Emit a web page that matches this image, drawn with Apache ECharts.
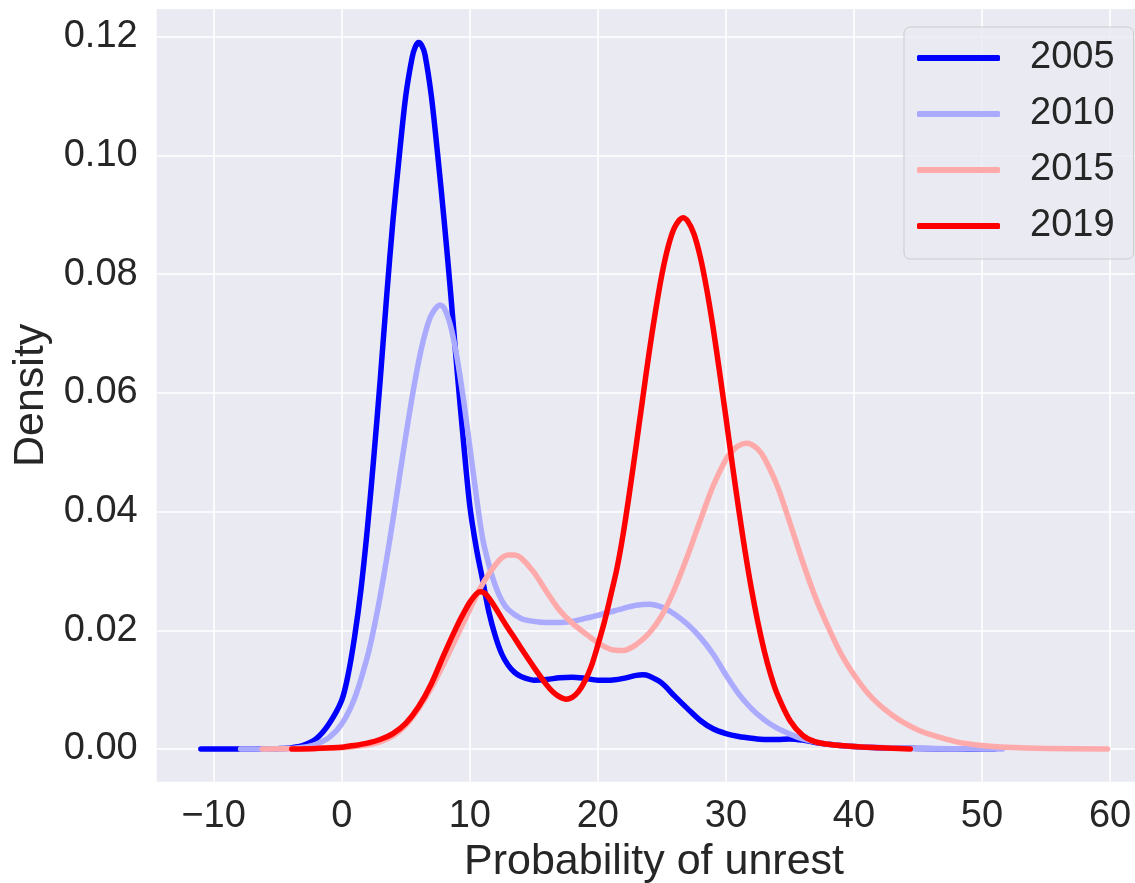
<!DOCTYPE html>
<html>
<head>
<meta charset="utf-8">
<script src="https://cdn.jsdelivr.net/npm/echarts@6/dist/echarts.min.js"></script>
<style>
  html, body { margin: 0; padding: 0; background: #ffffff; }
  #chart { width: 1135px; height: 883px; }
</style>
</head>
<body>
<div id="chart"></div>
<script>
// Kernel density estimates of the probability of unrest, one curve per year
const years = ['2005', '2010', '2015', '2019'];
const colors = ['#0000ff', '#aaaaff', '#ffaaaa', '#ff0000'];

const xs2005 = [-11, -8, -6, -5, -4, -3, -2, -1, 0, 0.5, 1, 1.5, 2, 2.5, 3, 3.5, 4, 4.5, 5, 5.5, 5.75, 6, 6.25, 6.5, 7, 7.5, 8, 8.5, 9, 9.5, 10, 10.5, 11, 11.5, 12, 12.5, 13, 13.5, 14, 15, 16, 17, 18, 19, 20, 21, 22, 23, 23.5, 24, 25, 26, 27, 28, 29, 30, 31, 32, 33, 34, 35, 36, 37, 38, 40, 42, 45, 48, 51];
const ys2005 = [0, 0, 0.00002, 0.00006, 0.00017, 0.0006, 0.0017, 0.0042, 0.0082, 0.0125, 0.0188, 0.0268, 0.037, 0.049, 0.062, 0.076, 0.089, 0.100, 0.110, 0.1165, 0.1183, 0.119, 0.1185, 0.117, 0.110, 0.100, 0.089, 0.077, 0.064, 0.052, 0.041, 0.034, 0.0285, 0.023, 0.019, 0.016, 0.0141, 0.0129, 0.0122, 0.0116, 0.0117, 0.0120, 0.0121, 0.0119, 0.0116, 0.0116, 0.0119, 0.0124, 0.0125, 0.0123, 0.0111, 0.0089, 0.0068, 0.0048, 0.0034, 0.0026, 0.0021, 0.0018, 0.0016, 0.0016, 0.0017, 0.0015, 0.0011, 0.0008, 0.0004, 0.0002, 0.0001, 0.00003, 0];

const xs2010 = [-7.9, -6, -5, -4, -3, -2, -1, 0, 1, 2, 2.5, 3, 3.5, 4, 4.5, 5, 5.5, 6, 6.5, 7, 7.68, 8, 8.5, 9, 9.5, 10, 10.5, 11, 11.5, 12, 12.5, 13, 14, 15, 16, 17, 18, 19, 20, 21, 22, 23, 24, 25, 26, 27, 28, 29, 30, 31, 32, 33, 34, 35, 36, 37, 38, 40, 43, 46, 49, 51.6];
const ys2010 = [0, 0.00001, 0.00003, 0.0001, 0.0003, 0.0008, 0.0019, 0.0042, 0.0085, 0.0155, 0.0202, 0.0257, 0.0319, 0.0386, 0.0457, 0.0527, 0.0593, 0.0652, 0.0699, 0.0731, 0.0748, 0.0743, 0.0713, 0.066, 0.059, 0.051, 0.0428, 0.0355, 0.031, 0.0275, 0.025, 0.0235, 0.022, 0.0215, 0.0213, 0.0213, 0.0215, 0.022, 0.0225, 0.0231, 0.0237, 0.0242, 0.0244, 0.0239, 0.0227, 0.021, 0.0188, 0.016, 0.0125, 0.0093, 0.0068, 0.0049, 0.0035, 0.0025, 0.0017, 0.0012, 0.0008, 0.0004, 0.0002, 0.0001, 0.00003, 0];

const xs2015 = [-6.2, -3, 0, 1, 2, 3, 4, 5, 6, 7, 8, 9, 10, 11, 12, 12.5, 13, 13.5, 14, 15, 16, 17, 18, 19, 20, 21, 22, 23, 24, 25, 26, 27, 28, 29, 30, 30.5, 31, 31.6, 32, 32.5, 33, 34, 35, 36, 37, 38, 39, 40, 41, 42, 43, 44, 45, 46, 48, 50, 52, 55, 59.8];
const ys2015 = [0, 0.00005, 0.0002, 0.0004, 0.0007, 0.0012, 0.0022, 0.0040, 0.0068, 0.0103, 0.0145, 0.019, 0.0235, 0.0278, 0.031, 0.0322, 0.0327, 0.0327, 0.0322, 0.0298, 0.0265, 0.0234, 0.0212, 0.0195, 0.0179, 0.0168, 0.0166, 0.0176, 0.0195, 0.0225, 0.027, 0.0325, 0.0385, 0.0443, 0.0488, 0.0502, 0.0511, 0.0515, 0.0513, 0.0505, 0.0490, 0.0444, 0.0381, 0.0315, 0.0255, 0.0205, 0.0160, 0.0125, 0.0096, 0.0074, 0.0057, 0.0043, 0.0032, 0.0024, 0.0012, 0.0006, 0.0003, 0.0001, 0];

const xs2019 = [-3.9, -2, 0, 1, 2, 3, 4, 5, 6, 7, 8, 9, 9.5, 10, 10.5, 10.8, 11.2, 11.5, 12, 12.5, 13, 13.5, 14, 15, 16, 16.5, 17, 17.5, 18, 18.5, 19, 19.5, 20, 20.5, 21, 21.5, 22, 22.5, 23, 23.5, 24, 24.5, 25, 25.5, 26, 26.65, 27, 27.5, 28, 28.5, 29, 29.5, 30, 30.5, 31, 31.5, 32, 32.5, 33, 33.5, 34, 35, 36, 37, 38, 40, 42, 44.4];
const ys2019 = [0, 0.0001, 0.0003, 0.0006, 0.001, 0.0016, 0.0026, 0.0043, 0.0071, 0.011, 0.016, 0.0207, 0.0228, 0.0247, 0.0261, 0.0265, 0.0262, 0.0254, 0.0238, 0.022, 0.0203, 0.0187, 0.017, 0.0138, 0.0108, 0.0096, 0.0088, 0.0084, 0.0087, 0.0097, 0.0115, 0.014, 0.0175, 0.0213, 0.0258, 0.0305, 0.0365, 0.0436, 0.0512, 0.059, 0.0667, 0.0737, 0.0799, 0.0847, 0.0879, 0.0895, 0.089, 0.0868, 0.0829, 0.0775, 0.071, 0.0636, 0.0559, 0.048, 0.0404, 0.0333, 0.0269, 0.0213, 0.0165, 0.0125, 0.0093, 0.0048, 0.0023, 0.0012, 0.0008, 0.0004, 0.0002, 0];

const xTicks = [-10, 0, 10, 20, 30, 40, 50, 60];
const yTicks = [0, 0.02, 0.04, 0.06, 0.08, 0.10, 0.12];

const curves = [[xs2005, ys2005], [xs2010, ys2010], [xs2015, ys2015], [xs2019, ys2019]];

const textColor = '#262626';
const fontFamily = '"Liberation Sans", Arial, sans-serif';

const chart = echarts.init(document.getElementById('chart'), null, { renderer: 'canvas' });

chart.setOption({
  backgroundColor: '#ffffff',
  animation: false,
  grid: {
    left: 156.7, top: 9, right: -16.3, bottom: 101.3,
    outerBoundsMode: 'none',
    containLabel: false,
    show: true, backgroundColor: '#eaeaf2', borderWidth: 0
  },
  legend: {
    orient: 'vertical',
    left: 904, top: 27,
    padding: [12, 19, 14, 13],
    itemGap: 18,
    itemWidth: 83, itemHeight: 6,
    icon: 'roundRect',
    backgroundColor: 'rgba(234,234,242,0.8)',
    borderColor: '#cccccc', borderWidth: 1, borderRadius: 6,
    textStyle: { color: textColor, fontSize: 38, fontFamily: fontFamily, padding: [0, 0, 0, 25] },
    data: years
  },
  xAxis: {
    type: 'value',
    min: -14.447, max: 63.22,
    name: 'Probability of unrest',
    nameLocation: 'middle',
    nameGap: 58,
    nameTextStyle: { color: textColor, fontSize: 43, fontFamily: fontFamily },
    axisLine: { show: false },
    axisTick: { show: false, customValues: xTicks },
    axisLabel: {
      customValues: xTicks,
      color: textColor, fontSize: 38, fontFamily: fontFamily, margin: 16,
      formatter: v => (v < 0 ? '\u2212' + Math.abs(v) : String(v))
    },
    splitLine: { show: true, lineStyle: { color: '#ffffff', width: 1.6 } }
  },
  yAxis: {
    type: 'value',
    min: -0.00551, max: 0.12466,
    name: 'Density',
    nameLocation: 'middle',
    nameGap: 104,
    nameRotate: 90,
    nameTextStyle: { color: textColor, fontSize: 43, fontFamily: fontFamily },
    axisLine: { show: false },
    axisTick: { show: false, customValues: yTicks },
    axisLabel: {
      customValues: yTicks,
      color: textColor, fontSize: 38, fontFamily: fontFamily, margin: 19,
      formatter: v => v.toFixed(2)
    },
    splitLine: { show: true, lineStyle: { color: '#ffffff', width: 1.6 } }
  },
  series: years.map((name, i) => ({
    name: name,
    type: 'line',
    smooth: 0.3,
    showSymbol: false,
    symbol: 'none',
    color: colors[i],
    lineStyle: { color: colors[i], width: 5.5, cap: 'round', join: 'round' },
    data: curves[i][0].map((x, k) => [x, curves[i][1][k]])
  }))
});
</script>
</body>
</html>
